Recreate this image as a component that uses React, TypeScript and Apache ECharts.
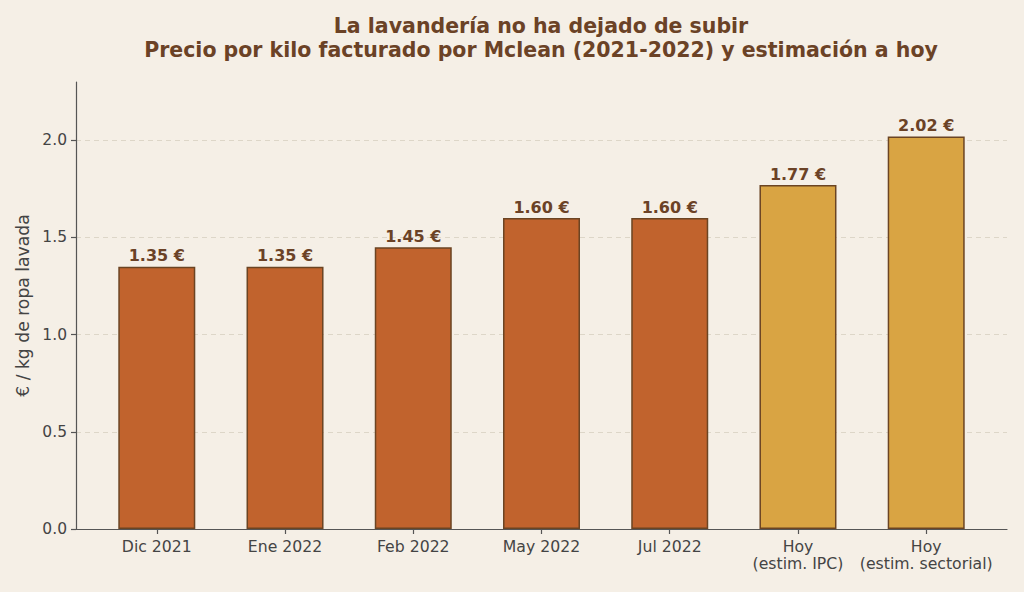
import React, { useEffect, useRef } from "react";
import * as echarts from "echarts";

const categories = [
  "Dic 2021",
  "Ene 2022",
  "Feb 2022",
  "May 2022",
  "Jul 2022",
  "Hoy\n(estim. IPC)",
  "Hoy\n(estim. sectorial)",
];
const prices = [1.35, 1.35, 1.45, 1.6, 1.6, 1.77, 2.02];
const isEstimate = [false, false, false, false, false, true, true];
const yTicks = [0, 0.5, 1.0, 1.5, 2.0];
const titleLines = [
  "La lavandería no ha dejado de subir",
  "Precio por kilo facturado por Mclean (2021-2022) y estimación a hoy",
];
const yAxisName = "€ / kg de ropa lavada";

const FONT = "DejaVu Sans";
const BROWN = "#6B4226";
const ORANGE = "#C1632D";
const GOLD = "#D9A443";
const EDGE = "#6B4423";
const AXIS = "#555555";
const LABEL = "#444444";

export default function App() {
  const ref = useRef<HTMLDivElement>(null);
  useEffect(() => {
    if (!ref.current) return;
    const chart = echarts.init(ref.current, undefined, { renderer: "svg" });
    const xIdx = categories.map((_, i) => i);
    chart.setOption({
      animation: false,
      backgroundColor: "#F5EFE6",
      textStyle: { fontFamily: FONT },
      graphic: [
        {
          type: "text",
          x: 541,
          y: 26,
          style: {
            text: titleLines[0],
            textAlign: "center",
            textVerticalAlign: "middle",
            fontFamily: FONT,
            fontWeight: "bold",
            fontSize: 20.5,
            fill: BROWN,
          },
        },
        {
          type: "text",
          x: 541,
          y: 50,
          style: {
            text: titleLines[1],
            textAlign: "center",
            textVerticalAlign: "middle",
            fontFamily: FONT,
            fontWeight: "bold",
            fontSize: 20.5,
            fill: BROWN,
          },
        },
      ],
      grid: { left: 76, right: 17, top: 82, bottom: 63, containLabel: false },
      xAxis: {
        type: "value",
        min: -0.63,
        max: 6.63,
        splitLine: { show: false },
        axisLine: { show: true, onZero: false, lineStyle: { color: AXIS, width: 1.2 } },
        axisTick: {
          show: true,
          customValues: xIdx,
          length: 5,
          lineStyle: { color: AXIS, width: 1.2 },
        },
        axisLabel: {
          customValues: xIdx,
          formatter: (v: number) => categories[Math.round(v)] ?? "",
          color: LABEL,
          fontFamily: FONT,
          fontSize: 15.7,
          lineHeight: 17,
          margin: 9,
        },
      },
      yAxis: {
        type: "value",
        min: 0,
        max: 2.3,
        name: yAxisName,
        nameLocation: "middle",
        nameGap: 44,
        nameTextStyle: { color: LABEL, fontFamily: FONT, fontSize: 17.2 },
        splitLine: { show: false },
        axisLine: { show: true, onZero: false, lineStyle: { color: AXIS, width: 1.2 } },
        axisTick: {
          show: true,
          customValues: yTicks,
          length: 5,
          lineStyle: { color: AXIS, width: 1.2 },
        },
        axisLabel: {
          customValues: yTicks,
          formatter: (v: number) => v.toFixed(1),
          color: LABEL,
          fontFamily: FONT,
          fontSize: 15.5,
          margin: 9,
        },
      },
      series: [
        {
          type: "line",
          data: [],
          z: 0,
          silent: true,
          markLine: {
            silent: true,
            z: 0,
            symbol: "none",
            label: { show: false },
            lineStyle: { color: "#DDD6C8", type: [5, 4], width: 1 },
            data: yTicks.filter((t) => t > 0).map((t) => ({ yAxis: t })),
          },
        },
        {
          type: "bar",
          z: 10,
          barWidth: 77,
          data: prices.map((p, i) => ({
            value: [i, p],
            itemStyle: {
              color: isEstimate[i] ? GOLD : ORANGE,
              borderColor: EDGE,
              borderWidth: 1.5,
            },
          })),
          label: {
            show: true,
            position: "top",
            distance: 3,
            formatter: (p: any) => `${p.value[1].toFixed(2)} €`,
            color: BROWN,
            fontFamily: FONT,
            fontWeight: "bold",
            fontSize: 16,
          },
        },
      ],
    });
    return () => chart.dispose();
  }, []);
  return (
    <div
      ref={ref}
      style={{ position: "fixed", left: 0, top: 0, width: 1024, height: 592 }}
    />
  );
}
